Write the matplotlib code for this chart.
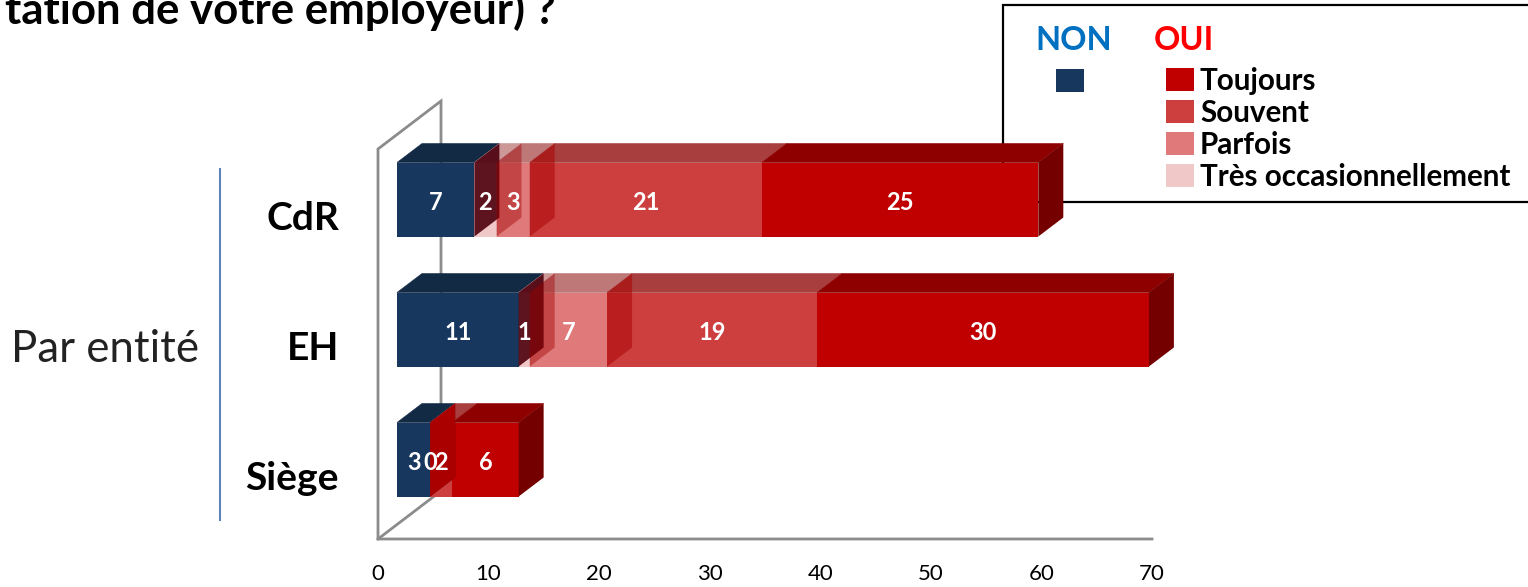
import matplotlib
matplotlib.use("Agg")
import matplotlib.pyplot as plt
from matplotlib.patches import Polygon, Rectangle
from matplotlib.transforms import ScaledTranslation

plt.rcParams['font.family'] = ['Lato', 'DejaVu Sans']

# Données
entites = ["CdR", "EH", "Siège"]
non = [7, 11, 3]
tres_occ = [2, 1, None]
parfois = [3, 7, 0]
souvent = [21, 19, 2]
toujours = [25, 30, 6]
series = [non, tres_occ, parfois, souvent, toujours]
ticks_x = [0, 10, 20, 30, 40, 50, 60, 70]

# Couleurs : face avant, dessus, côté (couleur + alpha)
faces = ["#17375e", "#f0c8c8", "#e07a7a", "#cd3f3f", "#c00000"]
dessus = ["#132a45", "#cc9898", "#bf7878", "#a83e3e", "#8e0000"]
cotes = ["#4d000d", "#a00000", "#aa0000", "#bf0000", "#750000"]
alpha_cotes = [0.9, 0.43, 0.52, 0.0, 1.0]
gris = "#8c8c8c"

W, H = 1528, 587
fig = plt.figure(figsize=(W / 100, H / 100), dpi=100)

# Calque en pixels pour le texte et la légende, sous le graphique
fond = fig.add_axes([0, 0, 1, 1], zorder=0)
fond.set_xlim(0, W)
fond.set_ylim(H, 0)
fond.axis("off")

fond.text(556, 24, "tation de votre employeur) ?", ha="right", va="baseline",
          fontsize=31.5, fontweight="bold", color="black")
fond.text(105, 349, "Par entité", ha="center", va="center", fontsize=31.5, color="#222222")
fond.plot([220, 220], [169, 520], color="#5b85b8", lw=1.5)

fond.add_patch(Rectangle((1003, 5), 600, 197, fc="white", ec="black", lw=1.6))
fond.text(1074, 41, "NON", ha="center", va="center", fontsize=23.5, fontweight="bold", color="#0070c0")
fond.text(1184, 41, "OUI", ha="center", va="center", fontsize=23.5, fontweight="bold", color="#ff0000")
fond.add_patch(Rectangle((1056, 69), 28, 23, fc=faces[0], ec="none"))
legende = ["Toujours", "Souvent", "Parfois", "Très occasionnellement"]
couleurs_leg = [faces[4], faces[3], faces[2], faces[1]]
for i, (nom, c) in enumerate(zip(legende, couleurs_leg)):
    y = 68 + i * 32
    fond.add_patch(Rectangle((1166, y), 28, 23, fc=c, ec="none"))
    fond.text(1200, y + 13, nom, ha="left", va="center", fontsize=21.3, fontweight="bold", color="black")

# Graphique principal
ax = fig.add_axes([378 / W, 1 - 539 / H, (1152 - 378) / W, 390 / H], zorder=1)
ax.patch.set_alpha(0)
ax.set_xlim(0, 70)
ax.set_ylim(2.5, -0.5)
for s in ax.spines.values():
    s.set_visible(False)

ux = 70 / (1152 - 378)  # data par pixel
uy = 3 / 390
off_x, off_y = 19 * ux, 14.5 * uy
prof_x, prof_y = 25 * ux, 19 * uy
hauteur = 74 * uy

# Parois du graphique
mur_x, mur_y = 63 * ux, 48 * uy
ax.plot([70, 0, 0, mur_x, mur_x], [2.5, 2.5, -0.5, -0.5 - mur_y, 2.5 - mur_y],
        color=gris, lw=2, clip_on=False, zorder=1, solid_joinstyle="miter")
ax.plot([0, mur_x], [2.5, 2.5 - mur_y], color=gris, lw=2, clip_on=False, zorder=1)

ax.set_xticks(ticks_x)
ax.set_yticks(range(len(entites)))
ax.set_yticklabels(entites, fontsize=28, fontweight="bold")
ax.tick_params(axis="y", length=0, pad=28)
ax.tick_params(axis="x", length=0, pad=18, labelsize=16)
# les noms d'entité sont un peu plus bas que le centre de la bande
decalage = ScaledTranslation(0, -1.5 / 100, fig.dpi_scale_trans)
for lab in ax.get_yticklabels():
    lab.set_transform(lab.get_transform() + decalage)

for i in range(len(entites)):
    y0 = i - off_y - hauteur / 2
    y1 = y0 + hauteur
    x = off_x
    bords = []
    for j, serie in enumerate(series):
        v = serie[i]
        if v is None:
            continue
        bords.append((j, x, x + v))
        x += v

    # faces avant puis dessus, puis côtés de gauche à droite
    for j, a, b in bords:
        ax.barh(y1 - hauteur / 2, b - a, height=hauteur, left=a, color=faces[j], zorder=2, clip_on=False)
    for j, a, b in bords:
        ax.add_patch(Polygon([(a, y0), (b, y0), (b + prof_x, y0 - prof_y), (a + prof_x, y0 - prof_y)],
                             fc=dessus[j], ec=dessus[j], lw=0.4, zorder=3, clip_on=False))
    for j, a, b in bords:
        zero = series[j][i] == 0
        ax.add_patch(Polygon([(b, y0), (b + prof_x, y0 - prof_y), (b + prof_x, y1 - prof_y), (b, y1)],
                             fc="#b00000" if zero else cotes[j], alpha=0.95 if zero else alpha_cotes[j],
                             ec="none", zorder=4, clip_on=False))
    for j, a, b in bords:
        ax.text((a + b) / 2, y0 + hauteur / 2 + 3 * uy, str(series[j][i]), ha="center", va="center",
                fontsize=17, fontweight="bold", color="white", zorder=5)

fig.savefig("out.png", dpi=100)
